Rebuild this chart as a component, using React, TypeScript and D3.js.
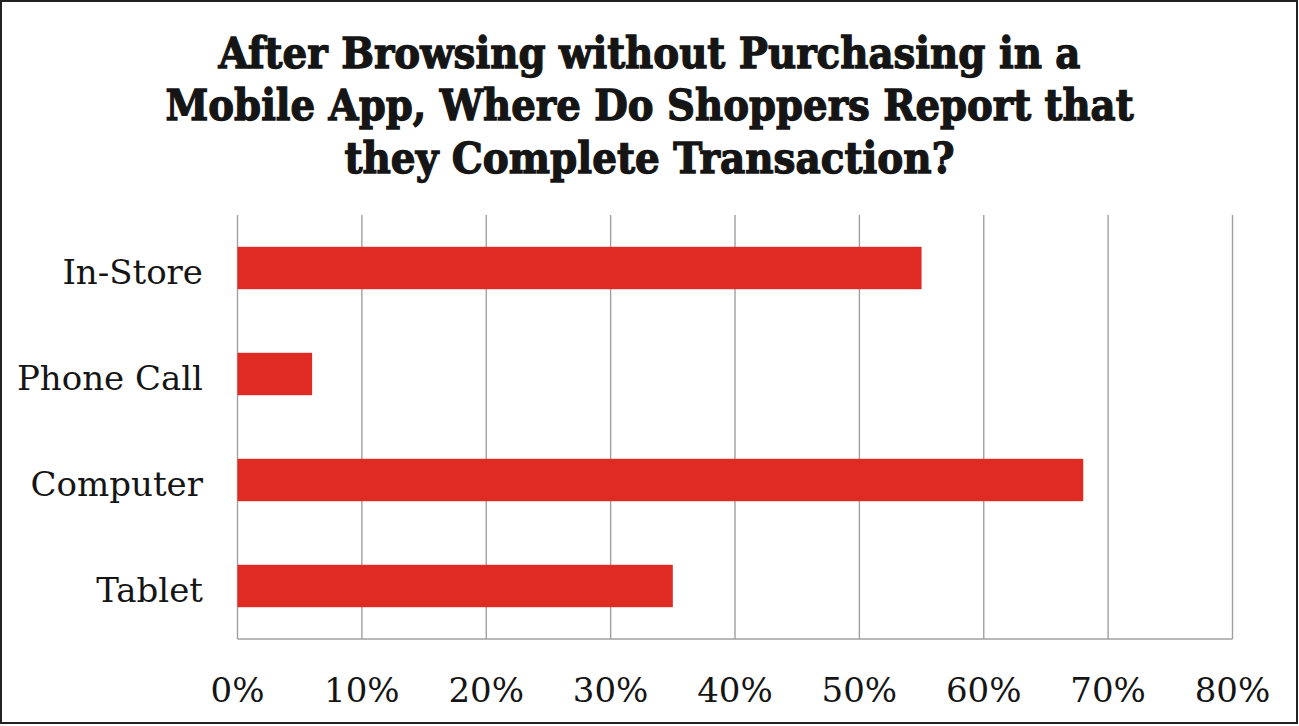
import React from "react";
import * as d3 from "d3";

const titleLines = [
  "After Browsing without Purchasing in a",
  "Mobile App, Where Do Shoppers Report that",
  "they Complete Transaction?",
];
const categories = ["In-Store", "Phone Call", "Computer", "Tablet"];
const values = [0.55, 0.06, 0.68, 0.35];
const ticks = [0, 0.1, 0.2, 0.3, 0.4, 0.5, 0.6, 0.7, 0.8];

const W = 1299;
const H = 726;
const titleWidths = [862, 968, 610];

export default function App() {
  const x = d3.scaleLinear().domain([0, 0.8]).range([237.5, 1232.5]);
  const y = d3
    .scaleBand<string>()
    .domain(categories)
    .range([215, 639])
    .paddingInner(0.6)
    .paddingOuter(0.3);
  const fmt = d3.format(".0%");
  const serif = "'DejaVu Serif', serif";

  return (
    <svg
      width={W}
      height={H}
      style={{ position: "absolute", left: 0, top: 0, background: "#fff" }}
    >
      <rect x={0} y={0} width={W} height={H} fill="#fff" />
      <rect
        x={1}
        y={1}
        width={1296}
        height={722}
        fill="none"
        stroke="#222"
        strokeWidth={2}
      />
      {titleLines.map((t, i) => (
        <text
          key={t}
          x={W / 2}
          y={67.7 + i * 52.4}
          textAnchor="middle"
          fontFamily={serif}
          fontWeight="bold"
          fontSize={42}
          fill="#151515"
          stroke="#151515"
          strokeWidth={1.3}
          textLength={titleWidths[i]}
          lengthAdjust="spacingAndGlyphs"
        >
          {t}
        </text>
      ))}
      {ticks.map((t) => (
        <line
          key={"g" + t}
          x1={x(t)}
          x2={x(t)}
          y1={215}
          y2={639}
          stroke="#a0a0a0"
          strokeWidth={1.4}
        />
      ))}
      <line
        x1={x(0)}
        x2={x(0.8)}
        y1={639}
        y2={639}
        stroke="#a0a0a0"
        strokeWidth={1.4}
      />
      {categories.map((c, i) => (
        <rect
          key={"b" + c}
          x={x(0)}
          y={y(c)}
          width={x(values[i]) - x(0)}
          height={y.bandwidth()}
          fill="#e02b24"
        />
      ))}
      {categories.map((c) => (
        <text
          key={"l" + c}
          x={203}
          y={(y(c) as number) + y.bandwidth() / 2 + 15.5}
          textAnchor="end"
          fontFamily={serif}
          fontSize={34}
          fill="#151515"
        >
          {c}
        </text>
      ))}
      {ticks.map((t) => (
        <text
          key={"t" + t}
          x={x(t)}
          y={701.5}
          textAnchor="middle"
          fontFamily={serif}
          fontSize={34}
          fill="#151515"
        >
          {fmt(t)}
        </text>
      ))}
    </svg>
  );
}
